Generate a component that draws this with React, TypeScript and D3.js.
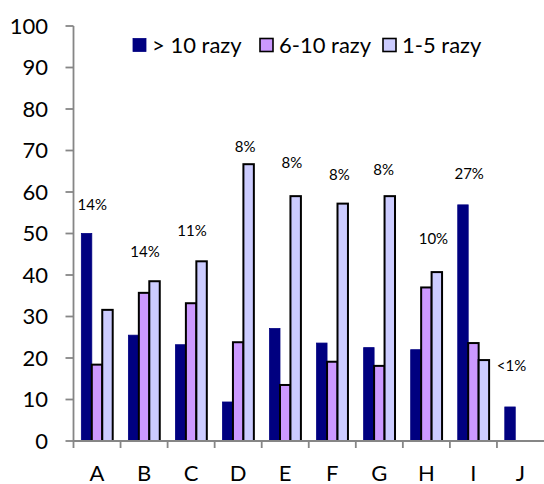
import React from "react";
import * as d3 from "d3";

const categories = ["A", "B", "C", "D", "E", "F", "G", "H", "I", "J"];
const seriesNames = ["> 10 razy", "6-10 razy", "1-5 razy"];
const over10 = [50, 25.5, 23.2, 9.4, 27.1, 23.6, 22.5, 22.0, 56.9, 8.2];
const from6to10 = [18.4, 35.7, 33.2, 23.8, 13.5, 19.1, 18.1, 37.0, 23.6, 0];
const from1to5 = [31.6, 38.5, 43.3, 66.7, 59.0, 57.2, 59.0, 40.7, 19.5, 0];
const shareLabels = ["14%", "14%", "11%", "8%", "8%", "8%", "8%", "10%", "27%", "<1%"];
const shareLabelValue = [56.9, 45.6, 50.8, 70.9, 67.2, 64.1, 65.5, 48.7, 64.5, 18.1];
const shareLabelShift = [-0.1, 0.02, 0.02, 0.15, 0.14, 0.15, 0.09, 0.15, -0.09, -0.19];
const yTicks = [0, 10, 20, 30, 40, 50, 60, 70, 80, 90, 100];

const colors = ["#000080", "#CC99FF", "#CCCCFF"];
const strokes = ["#000080", "#000000", "#000000"];

export default function App() {
  const W = 544, H = 484;
  const left = 73.5, right = 544, top = 26, bottom = 441;
  const font = "Lato, 'Open Sans', sans-serif";
  const series = [over10, from6to10, from1to5];

  const x = d3.scaleBand<string>().domain(categories).range([left, right]).paddingInner(0).paddingOuter(0);
  const bw = x.bandwidth();
  const barW = bw / 4.5;
  const y = d3.scaleLinear().domain([0, 100]).range([bottom, top]);
  const axisColor = "#868686";

  return (
    <svg width={W} height={H} style={{ position: "absolute", left: 0, top: 0, background: "#fff" }}>
      {/* bars */}
      {categories.map((c, i) => (
        <g key={c}>
          {series.map((s, k) => {
            const v = s[i];
            if (!v) return null;
            const x0 = (x(c) as number) + barW * 0.75 + k * barW;
            return (
              <rect
                key={k}
                x={x0}
                y={y(v)}
                width={barW}
                height={y(0) - y(v)}
                fill={colors[k]}
                stroke={strokes[k]}
                strokeWidth={k === 0 ? 0.8 : 2}
              />
            );
          })}
        </g>
      ))}
      {/* y axis */}
      <line x1={left} x2={left} y1={top} y2={bottom + 7} stroke={axisColor} strokeWidth={1.8} />
      {yTicks.map((t) => (
        <g key={t}>
          <line x1={left - 8} x2={left} y1={y(t)} y2={y(t)} stroke={axisColor} strokeWidth={1.8} />
          <text x={48} y={y(t)} dy="0.36em" textAnchor="end" fontFamily={font} fontSize={22} fill="#000">
            {t}
          </text>
        </g>
      ))}
      {/* x axis */}
      <line x1={left} x2={right} y1={bottom} y2={bottom} stroke={axisColor} strokeWidth={1.8} />
      {categories.map((c, i) => (
        <g key={c}>
          {i > 0 && (
            <line x1={x(c) as number} x2={x(c) as number} y1={bottom} y2={bottom + 7} stroke={axisColor} strokeWidth={1.8} />
          )}
          <text
            x={(x(c) as number) + bw / 2}
            y={481}
            textAnchor="middle"
            fontFamily={font}
            fontSize={22}
            fill="#000"
          >
            {c}
          </text>
          <text
            x={(x(c) as number) + bw / 2 + shareLabelShift[i] * bw}
            y={y(shareLabelValue[i])}
            dy="0.36em"
            textAnchor="middle"
            fontFamily={font}
            fontSize={15}
            fill="#000"
          >
            {shareLabels[i]}
          </text>
        </g>
      ))}
      {/* legend */}
      {seriesNames.map((n, k) => {
        const lx = [133, 260, 383][k];
        return (
          <g key={n}>
            <rect
              x={lx}
              y={38.5}
              width={13}
              height={13}
              fill={colors[k]}
              stroke={strokes[k]}
              strokeWidth={k === 0 ? 0.8 : 1.6}
            />
            <text x={lx + 19} y={45} dy="0.36em" fontFamily={font} fontSize={22} fill="#000">
              {n}
            </text>
          </g>
        );
      })}
    </svg>
  );
}
